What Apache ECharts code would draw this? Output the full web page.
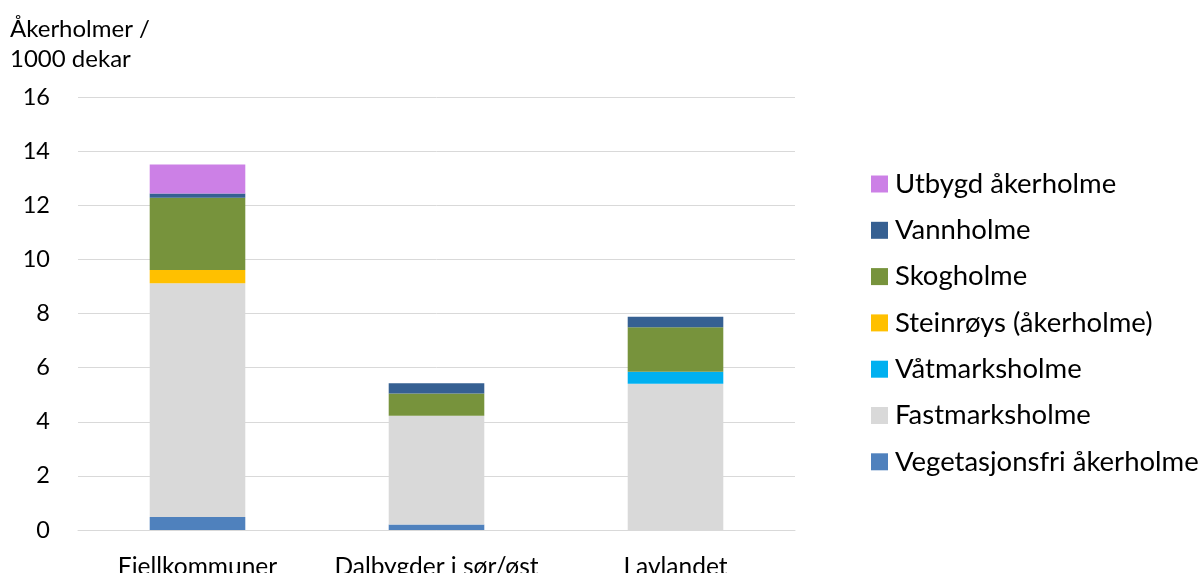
<!DOCTYPE html>
<html>
<head>
<meta charset="utf-8">
<script src="https://cdn.jsdelivr.net/npm/echarts@6/dist/echarts.min.js"></script>
<style>
  html, body { margin: 0; padding: 0; background: #fff; }
  #chart { width: 1200px; height: 573px; }
</style>
</head>
<body>
<div id="chart"></div>
<script>
// Regions on the x axis
const categories = ['Fjellkommuner', 'Dalbygder i sør/øst', 'Lavlandet'];

// Åkerholmer per 1000 dekar, by type (stacked bottom to top)
const vegetasjonsfri = [0.48, 0.20, 0.00];
const fastmarksholme = [8.64, 4.02, 5.40];
const vaatmarksholme = [0.00, 0.00, 0.45];
const steinroys      = [0.49, 0.00, 0.00];
const skogholme      = [2.67, 0.82, 1.64];
const vannholme      = [0.15, 0.38, 0.39];
const utbygd         = [1.08, 0.00, 0.00];

const yTicks = [0, 2, 4, 6, 8, 10, 12, 14, 16];

const seriesDefs = [
  { name: 'Vegetasjonsfri åkerholme', data: vegetasjonsfri, color: '#4f81bd' },
  { name: 'Fastmarksholme',           data: fastmarksholme, color: '#d9d9d9' },
  { name: 'Våtmarksholme',            data: vaatmarksholme, color: '#00b0f0' },
  { name: 'Steinrøys (åkerholme)',    data: steinroys,      color: '#ffc000' },
  { name: 'Skogholme',                data: skogholme,      color: '#77933c' },
  { name: 'Vannholme',                data: vannholme,      color: '#366092' },
  { name: 'Utbygd åkerholme',         data: utbygd,         color: '#cc80e6' }
];

const font = 'Lato, "Open Sans", "Liberation Sans", sans-serif';

const chart = echarts.init(document.getElementById('chart'), null, { renderer: 'canvas' });

chart.setOption({
  animation: false,
  backgroundColor: '#ffffff',
  textStyle: { fontFamily: font, color: '#000' },
  grid: {
    left: 78, right: 405, top: 97, bottom: 43,
    containLabel: false, outerBoundsMode: 'none'
  },
  graphic: [
    {
      type: 'text', left: 10, top: 14,
      style: { text: 'Åkerholmer /\n1000 dekar', font: '24px ' + font, lineHeight: 30, fill: '#000' }
    }
  ],
  legend: {
    orient: 'vertical',
    left: 866,
    top: 165,
    itemWidth: 17,
    itemHeight: 17,
    itemGap: 18.3,
    icon: 'rect',
    textStyle: { fontFamily: font, fontSize: 27.5, color: '#000', lineHeight: 28, padding: [0, 0, 0, 2] },
    data: seriesDefs.map(s => s.name).reverse()
  },
  xAxis: {
    type: 'category',
    data: categories,
    axisTick: { show: false },
    axisLine: { lineStyle: { color: '#d9d9d9', width: 1 } },
    axisLabel: {
      fontFamily: font, fontSize: 24.5, color: '#000', margin: 25,
      interval: 0, hideOverlap: false
    }
  },
  yAxis: {
    type: 'value',
    min: yTicks[0],
    max: yTicks[yTicks.length - 1],
    interval: 2,
    axisLine: { show: false },
    axisTick: { show: false },
    splitLine: { lineStyle: { color: '#d9d9d9', width: 1 } },
    axisLabel: { fontFamily: font, fontSize: 23.5, color: '#000', margin: 28 }
  },
  series: seriesDefs.map(s => ({
    name: s.name,
    type: 'bar',
    stack: 'total',
    barWidth: '40%',
    data: s.data,
    itemStyle: { color: s.color },
    emphasis: { disabled: true }
  }))
});
</script>
</body>
</html>
